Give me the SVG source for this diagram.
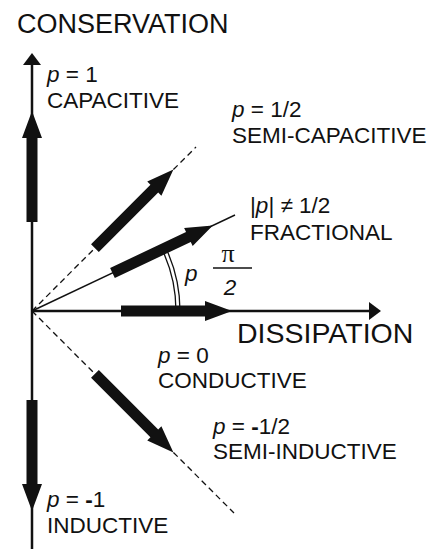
<svg xmlns="http://www.w3.org/2000/svg" xmlns:xlink="http://www.w3.org/1999/xlink" width="429" height="549" viewBox="0 0 429 549">
  <style>
    text { font-family: "Liberation Sans", Arial, sans-serif; fill: #111; }
    .lbl { font-size: 22.5px; }
    .it { font-style: italic; }
    .big { font-size: 27px; }
    .axis { stroke: #111; stroke-width: 2.5; fill: none; }
    .thin { stroke: #111; stroke-width: 1.4; fill: none; }
    .dash { stroke: #111; stroke-width: 1.3; fill: none; stroke-dasharray: 6 4; }
    .arc { stroke: #111; stroke-width: 1.3; fill: none; }
    .fill { fill: #111; stroke: none; }
  </style>
  <defs>
    <path id="thick" d="M89,-5.5 L173,-5.5 L173,-10 L200,0 L173,10 L173,5.5 L89,5.5 Z"/>
    <path id="axhead" d="M0,0 L-12,-9 L-12,9 Z"/>
  </defs>
  <rect width="429" height="549" fill="#fff"/>

  <g id="connectors">
    <!-- axes -->
    <line class="axis" x1="32" y1="549" x2="32" y2="60"/>
    <line class="axis" x1="32" y1="311" x2="375" y2="311"/>
    <use xlink:href="#axhead" class="fill" transform="translate(32,53) rotate(-90)"/>
    <use xlink:href="#axhead" class="fill" transform="translate(381,311)"/>
    <!-- reference lines -->
    <line class="dash" x1="32" y1="311" x2="196" y2="147"/>
    <line class="dash" x1="32" y1="311" x2="234" y2="513"/>
    <line class="thin" x1="32" y1="311" x2="235" y2="215"/>
    <!-- angle arc (double line) -->
    <path class="arc" d="M176,311 A144,144 0 0 0 162.1,249.4"/>
    <path class="arc" d="M180,311 A148,148 0 0 0 165.7,247.7"/>
    <!-- thick phasor arrows -->
    <use xlink:href="#thick" class="fill" transform="translate(32,311)"/>
    <use xlink:href="#thick" class="fill" transform="translate(32,311) rotate(-25.31)"/>
    <use xlink:href="#thick" class="fill" transform="translate(32,311) rotate(-45)"/>
    <use xlink:href="#thick" class="fill" transform="translate(32,311) rotate(-90)"/>
    <use xlink:href="#thick" class="fill" transform="translate(32,311) rotate(45)"/>
    <use xlink:href="#thick" class="fill" transform="translate(32,311) rotate(90)"/>
  </g>

  <g id="conservation">
    <text class="big" x="17" y="33">CONSERVATION</text>
  </g>
  <g id="dissipation">
    <text x="237" y="343" font-size="28.5">DISSIPATION</text>
  </g>
  <g id="capacitive">
    <text class="lbl" x="47" y="82"><tspan class="it">p</tspan> = 1</text>
    <text class="lbl" x="47" y="108">CAPACITIVE</text>
  </g>
  <g id="semi-capacitive">
    <text class="lbl" x="232" y="117"><tspan class="it">p</tspan> = 1/2</text>
    <text class="lbl" x="232" y="143">SEMI-CAPACITIVE</text>
  </g>
  <g id="fractional">
    <text class="lbl" x="250" y="213">|<tspan class="it">p</tspan>| ≠ 1/2</text>
    <text class="lbl" x="250" y="240">FRACTIONAL</text>
  </g>
  <g id="angle">
    <text class="lbl it" x="185" y="281">p</text>
    <text x="228" y="262" font-size="26" text-anchor="middle" style="font-family:'Liberation Serif','Times New Roman',serif">π</text>
    <line x1="213" y1="268" x2="252" y2="268" stroke="#111" stroke-width="1.3"/>
    <text class="lbl it" x="230" y="295" text-anchor="middle">2</text>
  </g>
  <g id="conductive">
    <text class="lbl" x="158" y="363"><tspan class="it">p</tspan> = 0</text>
    <text class="lbl" x="158" y="388">CONDUCTIVE</text>
  </g>
  <g id="semi-inductive">
    <text class="lbl" x="213" y="434"><tspan class="it">p</tspan> = <tspan font-weight="bold">-</tspan>1/2</text>
    <text class="lbl" x="213" y="459">SEMI-INDUCTIVE</text>
  </g>
  <g id="inductive">
    <text class="lbl" x="47" y="507"><tspan class="it">p</tspan> = <tspan font-weight="bold">-</tspan>1</text>
    <text class="lbl" x="47" y="533">INDUCTIVE</text>
  </g>
</svg>
